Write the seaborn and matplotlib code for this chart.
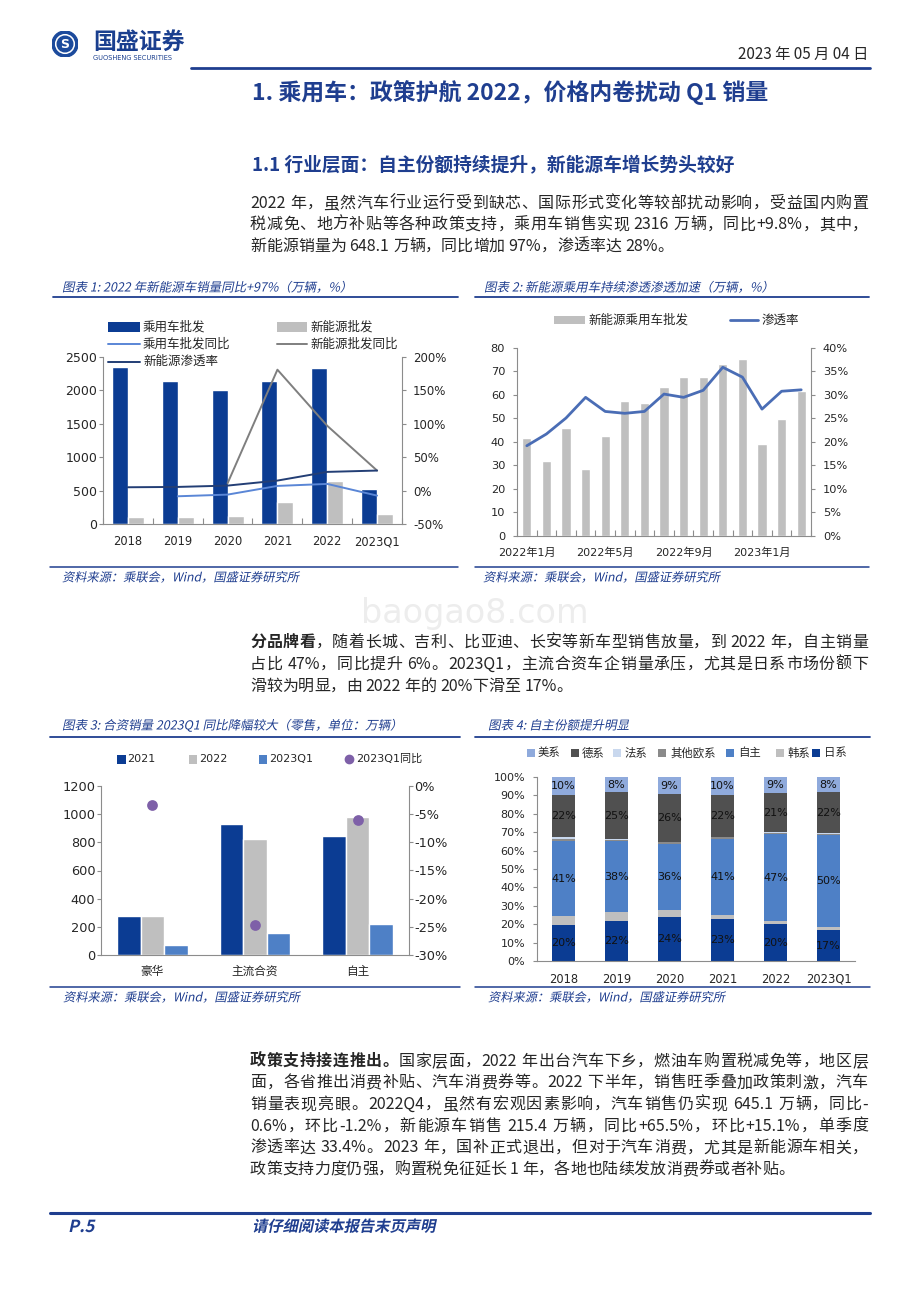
import numpy as np
import pandas as pd
import matplotlib
matplotlib.use("Agg")
import matplotlib.pyplot as plt
import seaborn as sns
from matplotlib.font_manager import FontProperties
from matplotlib.textpath import TextPath
from matplotlib.patches import PathPatch, Rectangle, Circle
from matplotlib.lines import Line2D
from matplotlib.transforms import Affine2D

sns.set_style("white")
plt.rcParams["font.family"] = ["DejaVu Sans", "Noto Sans CJK SC"]
plt.rcParams["axes.unicode_minus"] = False

# chart 1: yearly wholesale (10k units) and yoy / penetration (%)
years = ["2018", "2019", "2020", "2021", "2022", "2023Q1"]
pv_sales = [2350, 2135, 2000, 2135, 2340, 520]
nev_sales = [105, 105, 125, 335, 650, 150]
pv_yoy = [np.nan, -8.5, -6.0, 7.0, 10.0, -7.5]
nev_yoy = [np.nan, np.nan, 11.0, 181.0, 97.0, 30.0]
nev_pen = [5.0, 5.5, 7.5, 15.0, 28.0, 30.0]

# chart 2: monthly NEV wholesale and penetration
months = ["2022年1月", "2022年2月", "2022年3月", "2022年4月", "2022年5月",
          "2022年6月", "2022年7月", "2022年8月", "2022年9月", "2022年10月",
          "2022年11月", "2022年12月", "2023年1月", "2023年2月", "2023年3月"]
nev_month = [41.5, 32.0, 45.9, 28.3, 42.5, 57.4, 56.7, 63.5, 67.8, 67.8,
             73.2, 75.3, 39.2, 49.9, 61.9]
pen_month = [19.2, 21.7, 25.1, 29.5, 26.5, 26.1, 26.5, 30.2, 29.5, 31.0,
             35.9, 33.8, 27.0, 30.8, 31.1]

# chart 3: retail by group
groups = ["豪华", "主流合资", "自主"]
periods = ["2021", "2022", "2023Q1"]
retail_2021 = [279, 932, 847]
retail_2022 = [277, 821, 980]
retail_2023q1 = [71, 156, 220]
yoy_2023q1 = [-3.4, -24.6, -6.1]

# chart 4: market share by brand origin (%)
brands = ["美系", "德系", "法系", "其他欧系", "自主", "韩系", "日系"]
share_us = [10.0, 8.3, 9.4, 10.0, 8.7, 8.2]
share_de = [22.4, 25.3, 25.7, 22.4, 21.4, 22.4]
share_fr = [1.2, 0.6, 0.4, 0.4, 0.5, 0.5]
share_eu = [1.2, 0.8, 0.7, 0.8, 0.5, 0.5]
share_own = [41.0, 38.4, 36.3, 41.4, 47.4, 50.1]
share_kr = [4.6, 4.9, 3.6, 2.4, 1.6, 1.7]
share_jp = [19.6, 21.7, 23.9, 22.6, 19.9, 16.6]
labelled = ["美系", "德系", "自主", "日系"]

NAVY = "#0B3C93"
GRAY = "#BFBFBF"
MID = "#4E80C6"
PURPLE = "#7E60A8"
SPINE = "#8C8C8C"
TXT_BLUE = "#1F3E8F"
brand_colors = ["#8FAADC", "#505050", "#C9D8EE", "#8A8A8A", MID, GRAY, NAVY]

W, H = 920, 1302
fig = plt.figure(figsize=(W / 100, H / 100), dpi=100)
renderer = fig.canvas.get_renderer()
CJK = "Noto Sans CJK SC"


def fy(y):
    return 1 - y / H


def add_ax(x0, y0, x1, y1):
    return fig.add_axes([x0 / W, 1 - y1 / H, (x1 - x0) / W, (y1 - y0) / H])


def hline(x0, x1, y, lw, color=TXT_BLUE):
    fig.add_artist(Line2D([x0 / W, x1 / W], [fy(y), fy(y)], color=color,
                          lw=lw, transform=fig.transFigure))


def slant(x, y, s, pt, color=TXT_BLUE, bold=False):
    # fake italic: the CJK font has no italic face
    fp = FontProperties(family=CJK, weight="bold" if bold else "normal")
    size = pt * 100 / 72
    tp = TextPath((0, 0), s, size=size, prop=fp)
    tr = Affine2D().skew_deg(12, 0).translate(x, H - y - size * 0.36)
    fig.add_artist(PathPatch(tp, transform=tr, facecolor=color, lw=0))


def key_box(x0, x1, y, h, color):
    fig.add_artist(Rectangle((x0 / W, fy(y + h / 2)), (x1 - x0) / W, h / H,
                             color=color, transform=fig.transFigure, lw=0))


def key_text(x, y, s, pt):
    fig.text(x / W, fy(y), s, fontsize=pt, family=CJK, va="center", ha="left")


def tokens(s):
    out, buf = [], ""
    for ch in s:
        if ch.isascii() and ch != " ":
            buf += ch
        else:
            if buf:
                out.append(buf)
                buf = ""
            out.append(ch)
    if buf:
        out.append(buf)
    return out


def adv(t, fp):
    w1 = renderer.get_text_width_height_descent("|" + t + "|", fp, ismath=False)[0]
    w0 = renderer.get_text_width_height_descent("||", fp, ismath=False)[0]
    return w1 - w0


def body(y, segs, justify=True, x0=250, x1=868, pt=11.5):
    items = []
    for text, bold in segs:
        fp = FontProperties(family=CJK, weight="bold" if bold else "normal", size=pt)
        for t in tokens(text):
            items.append((t, fp, adv(t, fp)))
    total = sum(w for _, _, w in items)
    gap = (x1 - x0 - total) / (len(items) - 1) if justify else 0
    x = x0
    base = y + pt * 100 / 72 * 0.36
    for t, fp, w in items:
        if t != " ":
            fig.text(x / W, fy(base), t, fontproperties=fp, va="baseline", ha="left")
        x += w + gap


def style_axes(ax, axr):
    for s in ["top", "right"]:
        ax.spines[s].set_visible(False)
    for s in ["left", "bottom"]:
        ax.spines[s].set_color(SPINE)
        ax.spines[s].set_linewidth(0.8)
    if axr is not None:
        for s in ["top", "left", "bottom"]:
            axr.spines[s].set_visible(False)
        axr.spines["right"].set_color(SPINE)
        axr.spines["right"].set_linewidth(0.8)


# ---------------- page header ----------------
logo = add_ax(52, 31, 78, 57)
logo.set_axis_off()
logo.add_patch(Circle((0.5, 0.5), 0.5, color="#1B4A9C"))
logo.add_patch(Circle((0.5, 0.5), 0.36, color="white"))
logo.add_patch(Circle((0.5, 0.5), 0.3, color="#1B4A9C"))
logo.text(0.5, 0.47, "S", color="white", fontsize=9, fontweight="bold",
          ha="center", va="center")
fig.text(93 / W, fy(42), "国盛证券", family=CJK, fontsize=16.5, fontweight="bold",
         color="#1A3F8F", va="center")
fig.text(93 / W, fy(58), "GUOSHENG SECURITIES", fontsize=4.8, color="#1A3F8F",
         va="center")
fig.text(868 / W, fy(54), "2023 年 05 月 04 日", family=CJK, fontsize=11,
         ha="right", va="center")
hline(191, 870, 67.5, 2)
fig.text(252 / W, fy(93), "1. 乘用车：政策护航 2022，价格内卷扰动 Q1 销量",
         family=CJK, fontsize=16.5, fontweight="bold", color=TXT_BLUE, va="center")
fig.text(252 / W, fy(165.5), "1.1 行业层面：自主份额持续提升，新能源车增长势头较好",
         family=CJK, fontsize=13.5, fontweight="bold", color=TXT_BLUE, va="center")

body(202, [("2022 年，虽然汽车行业运行受到缺芯、国际形式变化等较部扰动影响，受益国内购置", False)])
body(223.5, [("税减免、地方补贴等各种政策支持，乘用车销售实现 2316 万辆，同比+9.8%，其中，", False)])
body(245, [("新能源销量为 648.1 万辆，同比增加 97%，渗透率达 28%。", False)], justify=False)

# ---------------- chart 1 ----------------
slant(62, 287, "图表 1: 2022 年新能源车销量同比+97%（万辆，%）", 9)
hline(53, 458, 297, 1.3)
slant(484, 287, "图表 2: 新能源乘用车持续渗透渗透加速（万辆，%）", 9)
hline(475, 869, 297, 1.3)

ax1 = add_ax(103, 357, 402, 524)
df1 = pd.DataFrame({"year": years * 2,
                    "series": ["乘用车批发"] * len(years) + ["新能源批发"] * len(years),
                    "value": pv_sales + nev_sales})
sns.barplot(data=df1, x="year", y="value", hue="series", palette=[NAVY, GRAY],
            width=0.64, saturation=1, legend=False, ax=ax1)
ax1b = ax1.twinx()
xs = np.arange(len(years))
sns.lineplot(x=xs, y=pv_yoy, ax=ax1b, color="#5A86D6", lw=1.4)
sns.lineplot(x=xs, y=nev_yoy, ax=ax1b, color="#7F7F7F", lw=1.4)
sns.lineplot(x=xs, y=nev_pen, ax=ax1b, color="#233E75", lw=1.4)
ax1.set(ylim=(0, 2500), yticks=range(0, 2501, 500), xlabel="", ylabel="")
ax1b.set_ylim(-50, 200)
ax1b.set_yticks(range(-50, 201, 50))
ax1b.set_yticklabels([f"{v}%" for v in range(-50, 201, 50)])
ax1.set_xlim(-0.5, len(years) - 0.5)
style_axes(ax1, ax1b)
ax1.tick_params(axis="y", left=True, direction="out", length=3, width=0.8,
                color=SPINE, labelsize=9, pad=1)
ax1.tick_params(axis="x", which="major", length=0, labelsize=8.3, pad=8)
ax1.set_xticks(np.arange(-0.5, len(years), 1), minor=True)
ax1.tick_params(axis="x", which="minor", bottom=True, direction="in", length=4,
                width=0.8, color=SPINE)
ax1b.tick_params(axis="y", right=True, direction="out", length=3, width=0.8,
                 color=SPINE, labelsize=8.5, pad=5)

key_box(108, 140, 327, 9, NAVY)
key_text(143, 327, "乘用车批发", 9)
key_box(277, 307, 327, 9, GRAY)
key_text(310, 327, "新能源批发", 9)
hline(108, 140, 344, 1.4, "#5A86D6")
key_text(143, 344, "乘用车批发同比", 9)
hline(277, 307, 344, 1.4, "#7F7F7F")
key_text(310, 344, "新能源批发同比", 9)
hline(108, 140, 361.5, 1.4, "#233E75")
key_text(143, 361.5, "新能源渗透率", 9)

# ---------------- chart 2 ----------------
ax2 = add_ax(517, 348, 811, 536)
sns.barplot(x=months, y=nev_month, color=GRAY, width=0.46, saturation=1, ax=ax2)
ax2b = ax2.twinx()
sns.lineplot(x=np.arange(len(months)), y=pen_month, ax=ax2b, color="#4A6DB5", lw=2.0)
ax2.set(ylim=(0, 80), yticks=range(0, 81, 10), xlabel="", ylabel="")
ax2.set_xlim(-0.5, len(months) - 0.5)
ax2.set_xticks(range(0, len(months), 4))
ax2.set_xticklabels(months[::4])
ax2b.set_ylim(0, 40)
ax2b.set_yticks(range(0, 41, 5))
ax2b.set_yticklabels([f"{v}%" for v in range(0, 41, 5)])
style_axes(ax2, ax2b)
ax2.tick_params(axis="y", left=True, direction="out", length=3, width=0.8,
                color=SPINE, labelsize=8.2, pad=5.5)
ax2.tick_params(axis="x", which="major", length=0, labelsize=8, pad=8)
ax2.set_xticks(np.arange(-0.5, len(months), 1), minor=True)
ax2.tick_params(axis="x", which="minor", bottom=True, direction="in", length=4,
                width=0.8, color=SPINE)
ax2b.tick_params(axis="y", right=True, direction="out", length=3, width=0.8,
                 color=SPINE, labelsize=8.2, pad=5.5)

key_box(554, 585, 320, 8, GRAY)
key_text(588, 320, "新能源乘用车批发", 9)
hline(730, 758, 320, 2.0, "#4A6DB5")
key_text(762, 320, "渗透率", 9)

for x0, x1 in [(50, 458), (475, 869)]:
    hline(x0, x1, 567, 1.1)
slant(62, 577, "资料来源：乘联会，Wind，国盛证券研究所", 8.8)
slant(483, 577, "资料来源：乘联会，Wind，国盛证券研究所", 8.8)

# ---------------- middle text ----------------
fig.text(475 / W, fy(614), "baogao8.com", fontsize=24, color="#EDEDED",
         ha="center", va="center", zorder=0)
body(641, [("分品牌看", True), ("，随着长城、吉利、比亚迪、长安等新车型销售放量，到 2022 年，自主销量", False)])
body(663, [("占比 47%，同比提升 6%。2023Q1，主流合资车企销量承压，尤其是日系市场份额下", False)])
body(685, [("滑较为明显，由 2022 年的 20%下滑至 17%。", False)], justify=False)

# ---------------- chart 3 ----------------
slant(62, 725, "图表 3: 合资销量 2023Q1 同比降幅较大（零售，单位：万辆）", 9)
hline(50, 460, 737, 1.3)
ax3 = add_ax(101, 786, 409, 955)
df3 = pd.DataFrame({"group": groups * 3,
                    "period": [p for p in periods for _ in groups],
                    "value": retail_2021 + retail_2022 + retail_2023q1})
sns.barplot(data=df3, x="group", y="value", hue="period", palette=[NAVY, GRAY, MID],
            width=0.69, saturation=1, legend=False, ax=ax3)
ax3b = ax3.twinx()
sns.scatterplot(x=np.arange(len(groups)), y=yoy_2023q1, ax=ax3b, color=PURPLE,
                s=60, linewidth=0)
ax3.set(ylim=(0, 1200), yticks=range(0, 1201, 200), xlabel="", ylabel="")
ax3.set_xlim(-0.5, len(groups) - 0.5)
ax3b.set_ylim(-30, 0)
ax3b.set_yticks(range(-30, 1, 5))
ax3b.set_yticklabels([f"{v}%" for v in range(-30, 1, 5)])
style_axes(ax3, ax3b)
ax3.tick_params(axis="y", left=True, direction="out", length=3, width=0.8,
                color=SPINE, labelsize=9.3, pad=1)
ax3.tick_params(axis="x", length=0, labelsize=8.4, pad=7)
ax3b.tick_params(axis="y", right=True, direction="out", length=3, width=0.8,
                 color=SPINE, labelsize=9.3, pad=1)

key_box(117, 126, 759, 9, NAVY)
fig.text(127 / W, fy(759), "2021", fontsize=8, va="center")
key_box(189, 197, 759, 9, GRAY)
fig.text(199 / W, fy(759), "2022", fontsize=8, va="center")
key_box(259, 267, 759, 9, MID)
fig.text(269 / W, fy(759), "2023Q1", fontsize=8, va="center")
fig.add_artist(Line2D([349 / W], [fy(759)], marker="o", ms=6, color=PURPLE,
                      lw=0, transform=fig.transFigure))
fig.text(356 / W, fy(759), "2023Q1同比", fontsize=8, va="center")

# ---------------- chart 4 ----------------
slant(488, 725, "图表 4: 自主份额提升明显", 9)
hline(475, 870, 737, 1.3)
ax4 = add_ax(537, 777, 855, 961)
share_lists = [share_us, share_de, share_fr, share_eu, share_own, share_kr, share_jp]
df4 = pd.DataFrame({"year": [y for _ in brands for y in years],
                    "brand": [b for b in brands for _ in years],
                    "share": [v for lst in share_lists for v in lst]})
sns.histplot(data=df4, x="year", weights="share", hue="brand", hue_order=brands,
             palette=brand_colors, multiple="stack", discrete=True, shrink=0.42,
             alpha=1, linewidth=0, legend=False, ax=ax4)
ax4.set(ylim=(0, 100), xlim=(-0.5, len(years) - 0.5), xlabel="", ylabel="")
ax4.set_yticks(range(0, 101, 10))
ax4.set_yticklabels([f"{v}%" for v in range(0, 101, 10)])
style_axes(ax4, None)
ax4.tick_params(axis="y", left=True, direction="out", length=3, width=0.8,
                color=SPINE, labelsize=8, pad=5.5)
ax4.tick_params(axis="x", length=0, labelsize=8.3, pad=8.5)

# segment labels, stacked from the bottom (日系) upward
bottom = np.zeros(len(years))
for b, lst in zip(brands[::-1], share_lists[::-1]):
    vals = np.array(lst)
    if b in labelled:
        for i, v in enumerate(vals):
            ax4.text(i, bottom[i] + v / 2, f"{v:.0f}%", ha="center", va="center",
                     fontsize=8, color="#111111")
    bottom += vals

leg4 = [(527, 538), (571, 582), (613, 625), (658, 670), (726, 738), (776, 788), (812, 824)]
for (bx, tx), b, c in zip(leg4, brands, brand_colors):
    key_box(bx, bx + 8, 753, 8, c)
    key_text(tx, 753, b, 8.2)

for x0, x1 in [(50, 460), (475, 870)]:
    hline(x0, x1, 987, 1.1)
slant(63, 997, "资料来源：乘联会，Wind，国盛证券研究所", 8.8)
slant(488, 997, "资料来源：乘联会，Wind，国盛证券研究所", 8.8)

# ---------------- lower text ----------------
body(1060, [("政策支持接连推出。", True), ("国家层面，2022 年出台汽车下乡，燃油车购置税减免等，地区层", False)])
body(1081.7, [("面，各省推出消费补贴、汽车消费券等。2022 下半年，销售旺季叠加政策刺激，汽车", False)])
body(1103.3, [("销量表现亮眼。2022Q4，虽然有宏观因素影响，汽车销售仍实现 645.1 万辆，同比-", False)])
body(1125, [("0.6%，环比-1.2%，新能源车销售 215.4 万辆，同比+65.5%，环比+15.1%，单季度", False)])
body(1146.7, [("渗透率达 33.4%。2023 年，国补正式退出，但对于汽车消费，尤其是新能源车相关，", False)])
body(1168.3, [("政策支持力度仍强，购置税免征延长 1 年，各地也陆续发放消费券或者补贴。", False)], justify=False)

hline(50, 870, 1213, 2.2)
slant(68, 1226, "P.5", 12, bold=True)
slant(252, 1226, "请仔细阅读本报告末页声明", 11, bold=True)

fig.savefig("out.png", dpi=100)
